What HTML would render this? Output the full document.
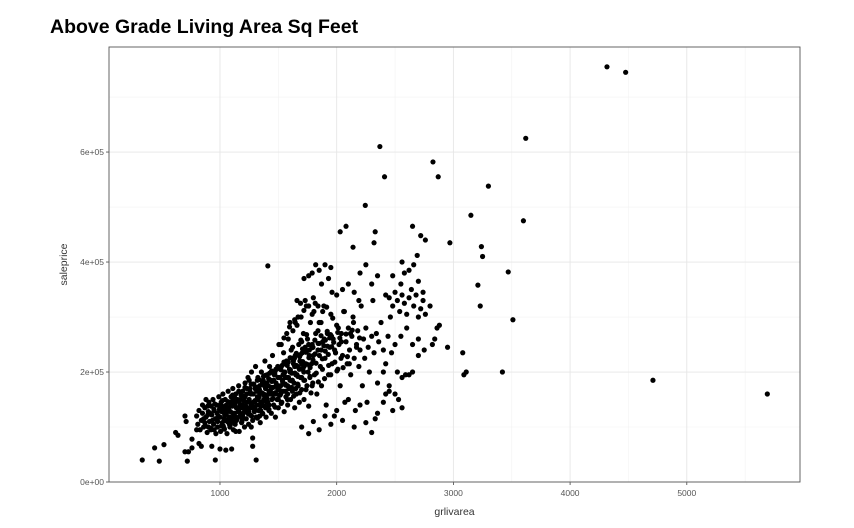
<!DOCTYPE html>
<html><head><meta charset="utf-8"><style>
body{margin:0;background:#fff;width:854px;height:528px;overflow:hidden;font-family:"Liberation Sans",sans-serif}
#title{position:absolute;left:50px;top:16px;font-size:19.5px;font-weight:bold;color:#000}
svg{position:absolute;left:0;top:0}
</style></head><body>
<div id="title">Above Grade Living Area Sq Feet</div>
<svg id="chart" width="854" height="528"></svg>
<script>
const xTicks=[1000,2000,3000,4000,5000];
const xMinor=[1500,2500,3500,4500,5500];
const yTicks=[0,200000,400000,600000];
const yTickLabels=["0e+00","2e+05","4e+05","6e+05"];
const yMinor=[100000,300000,500000,700000];
const grlivarea=[4316,4476,4710,5690,3620,3600,3300,3150,2370,2410,2825,2870,2245,2080,2650,1410,3470,3510,3240,3250,3210,3230,3080,3110,3090,3420,2970,2760,2720,2690,2560,2330,2320,2140,2030,
334,440,480,520,620,640,700,720,730,700,710,760,760,800,820,840,850,880,900,930,960,980,1000,1050,1100,1280,1310,1280,
800,810,820,830,840,850,860,870,880,890,900,905,910,920,925,930,940,945,950,960,965,970,975,980,990,995,1000,1005,1010,1015,1020,1025,1030,1035,1040,1045,1050,1055,1060,1065,1070,1075,1080,1085,1090,1095,1100,1105,1110,1115,1120,1125,1130,1135,1140,1145,1150,1155,1160,1165,1170,1175,1180,1185,1190,1195,1200,1205,1210,1215,1220,1225,1230,1235,1240,1245,1250,1255,1260,1265,1270,1275,1280,1285,1290,1295,1300,1305,1310,1315,1320,1325,1330,1335,1340,1345,1350,1355,1360,1365,1370,1375,1380,1385,1390,1395,1400,1405,1410,1415,1420,1425,1430,1435,1440,1445,1450,1455,1460,1465,1470,1475,1480,1485,1490,1495,1500,1505,1510,1515,1520,1525,1530,1535,1540,1545,1550,1555,1560,1565,1570,1575,1580,1585,1590,1595,1600,1605,1610,1615,1620,1625,1630,1635,1640,1645,1650,1655,1660,1665,1670,1675,1680,1685,1690,1695,1700,1705,1710,1715,1720,1725,1730,1735,1740,1745,1750,1755,1760,1765,1770,1775,1780,1785,1790,1795,
860,875,895,915,935,955,985,1000,1020,1035,1055,1075,1090,1110,1125,1140,1160,1175,1195,1210,1230,1250,1265,1285,1300,1320,1340,1360,1380,1400,1420,1440,1460,1480,1500,1520,1540,1560,1580,1600,1620,1640,1660,1680,1700,1720,1340,1420,1500,1580,1650,1700,1250,1190,1080,950,1130,1270,1390,1470,1550,1620,1700,
1800,1805,1810,1820,1830,1840,1850,1860,1870,1880,1890,1900,1910,1920,1930,1940,1950,1960,1970,1980,1990,2000,2010,2020,2030,2040,2050,2060,2070,2080,2090,2100,2110,2120,2130,2140,2150,2160,2170,2180,2190,2200,2210,2220,2230,2240,2250,2260,2270,2280,2300,2310,2320,2330,2340,2350,2360,2380,2400,2420,2440,2460,2480,2500,
1720,1760,1790,1820,1850,1870,1900,1930,1950,1690,1730,1760,1800,1840,1880,1960,2000,2050,2100,2150,2190,1660,1640,1600,
1700,1760,1800,1850,1900,1950,2000,2050,2100,2150,2200,2250,2300,2350,2400,2450,
2420,2450,2480,2500,2520,2540,2560,2580,2600,2620,2640,2660,2680,2700,2720,2740,2760,2800,2820,2840,2860,2880,2550,2600,2650,2700,2750,2520,2560,2590,2620,2650,2500,2530,2560,2450,2400,2420,2470,2700,2950,2580,2620,2660,2550,2480,2700,2740,2300,2350,2250,2200,
1012,1038,1063,1088,1117,1142,1168,1193,1222,1247,1272,1298,1327,1352,1377,1403,1432,1457,1482,1508,1537,1562,1587,1613,1642,1667,1692,1718,1747,1772,1797,1823,1852,1877,1902,1928,1957,1982,
1018,1046,1071,1099,1124,1152,1177,1205,1230,1258,1283,1311,1336,1364,1389,1417,1442,1470,1495,1523,1548,1576,1601,1629,1654,1682,1707,1735,1760,1788,1813,1841,1866,1894,1919,1947,
1108,1136,1161,1189,1214,1242,1267,1295,1320,1348,1373,1401,1426,1454,1479,1507,1532,1560,1585,1613,1638,1666,1691,1719,1744,1772,1797,1825,1850,1878,1903,1931,1956,1984,2009,2037,
1312,1338,1366,1391,1419,1444,1472,1497,1525,1550,1578,1603,1631,1656,1684,1709,1737,1762,1790,1815,1843,1868,1896,1921,1949,1974,2002,2027,2055,2080,2108,2133,
870,895,922,948,976,1002,1028,1054,1082,1108,1135,1162,1188,1214,1242,1268,1295,1321,1349,1375,
1525,1548,1572,1596,1622,1645,1669,1693,1719,1742,1766,1790,1816,1840,1866,1890,1914,1940,1966,1990,2014,2040,2066,2092,2118,2144,2170,2196];
const salepriceK=[755,745,185,160,625,475,538,485,610,555,582,555,503,465,465,393,382,295,428,410,358,320,235,200,195,200,435,440,448,412,400,455,435,427,455,
40,62,38,68,90,85,55,38,55,120,110,78,62,95,70,65,140,150,100,65,40,110,60,58,60,65,40,80,
120,105,130,95,112,125,100,135,118,90,128,145,110,98,138,122,150,105,130,115,88,140,125,100,155,132,118,92,145,128,108,160,135,98,122,150,112,140,88,130,165,118,145,100,128,155,110,138,170,95,148,125,105,160,135,115,150,128,175,92,142,120,158,108,135,165,125,148,100,180,138,115,160,130,190,105,150,170,122,142,200,135,112,160,178,128,148,210,118,165,140,190,130,155,175,108,145,200,162,125,185,150,138,220,170,118,158,195,145,175,132,210,160,185,125,150,230,172,140,195,162,118,180,205,150,168,135,250,190,158,175,210,145,185,165,235,128,200,178,155,220,190,140,260,170,205,185,150,240,198,165,275,215,180,135,230,195,160,285,210,175,250,145,220,190,300,168,235,205,270,150,185,245,215,320,175,260,200,138,230,190,290,162,215,250,180,
115,102,138,125,112,142,120,135,148,115,125,135,112,125,140,118,130,150,140,128,145,135,160,145,170,155,162,145,175,180,165,172,185,160,175,160,195,190,175,200,185,210,195,205,190,210,120,140,150,160,170,215,185,115,105,95,145,120,135,200,215,225,255,
230,310,195,270,160,240,290,210,175,255,320,225,140,270,195,245,305,215,260,120,235,285,205,250,175,270,230,310,145,255,215,280,240,195,265,300,225,130,250,275,210,240,320,175,260,225,280,145,245,200,265,330,235,115,270,180,255,290,240,160,265,300,130,250,
370,375,380,395,385,360,395,370,390,325,330,320,335,320,310,345,340,350,360,345,330,330,295,290,
100,88,110,95,120,105,130,112,150,100,140,108,90,125,145,165,
340,335,320,345,330,310,340,325,305,335,350,320,340,300,315,330,305,320,250,260,280,285,265,280,250,260,240,200,190,195,195,200,160,150,135,175,200,215,235,230,245,380,385,395,360,375,365,345,360,375,395,380,
102,96,110,104,118,112,126,120,134,128,142,136,150,144,158,152,166,160,174,168,182,176,190,184,198,192,206,200,214,208,222,216,230,224,238,232,246,240,
138,132,146,140,154,148,162,156,170,164,178,172,186,180,194,188,202,196,210,204,218,212,226,220,234,228,242,236,250,244,258,252,266,260,274,268,
158,112,165,118,172,125,178,132,185,138,192,145,198,152,205,158,212,165,218,172,225,178,232,185,238,192,245,198,252,205,258,212,265,218,272,225,
118,168,124,176,130,183,136,190,143,197,150,204,156,212,162,219,168,226,175,233,182,240,188,247,195,254,202,262,208,269,215,276,
108,122,95,132,112,140,102,128,118,148,92,136,110,155,124,100,145,116,130,160,
250,262,270,282,245,290,300,258,312,268,240,305,325,275,290,248,318,262,298,235,280,255,310,228,270,290,245,262];
const NS="http://www.w3.org/2000/svg";
const svg=document.getElementById('chart');
const L=109,R=800,T=47,B=482;
const xMin=49,xMax=5970,yMin=0,yMax=791000;
function sx(v){return L+(v-xMin)/(xMax-xMin)*(R-L);}
function sy(v){return B-(v-yMin)/(yMax-yMin)*(B-T);}
function mk(tag,attrs){const e=document.createElementNS(NS,tag);for(const k in attrs)e.setAttribute(k,attrs[k]);svg.appendChild(e);return e;}
let bg=mk('rect',{x:L,y:T,width:R-L,height:B-T,fill:'#fff'});


xMinor.forEach(v=>{let g=mk('line',{x1:sx(v),x2:sx(v),y1:T,y2:B,stroke:'#f2f2f2','stroke-width':0.6});

});
yMinor.forEach(v=>{let g=mk('line',{x1:L,x2:R,y1:sy(v),y2:sy(v),stroke:'#f2f2f2','stroke-width':0.6});

});
xTicks.forEach(v=>{let g=mk('line',{x1:sx(v),x2:sx(v),y1:T,y2:B,stroke:'#e6e6e6','stroke-width':0.9});


let t=mk('line',{x1:sx(v),x2:sx(v),y1:B,y2:B+3,stroke:'#444','stroke-width':0.8});


let lb=mk('text',{x:sx(v),y:B+14,'text-anchor':'middle','font-size':8.5,fill:'#555'});lb.textContent=v;

});
yTicks.forEach((v,i)=>{let g=mk('line',{x1:L,x2:R,y1:sy(v),y2:sy(v),stroke:'#e6e6e6','stroke-width':0.9});


let t=mk('line',{x1:L-3,x2:L,y1:sy(v),y2:sy(v),stroke:'#444','stroke-width':0.8});


let lb=mk('text',{x:L-5,y:sy(v)+3,'text-anchor':'end','font-size':8.5,fill:'#555'});lb.textContent=yTickLabels[i];

});
for(let i=0;i<grlivarea.length;i++){
 let c=mk('circle',{cx:sx(grlivarea[i]),cy:sy(salepriceK[i]*1000),r:2.6,fill:'#000'});
 
 
}
let fr=mk('rect',{x:L,y:T,width:R-L,height:B-T,fill:'none',stroke:'#555','stroke-width':0.9});


let xt=mk('text',{x:(L+R)/2,y:515,'text-anchor':'middle','font-size':10.5,fill:'#333'});xt.textContent='grlivarea';


let yt=mk('text',{x:0,y:0,'text-anchor':'middle','font-size':10.5,fill:'#333',transform:'translate(67,'+((T+B)/2)+') rotate(-90)'});yt.textContent='saleprice';


</script>
</body></html>
